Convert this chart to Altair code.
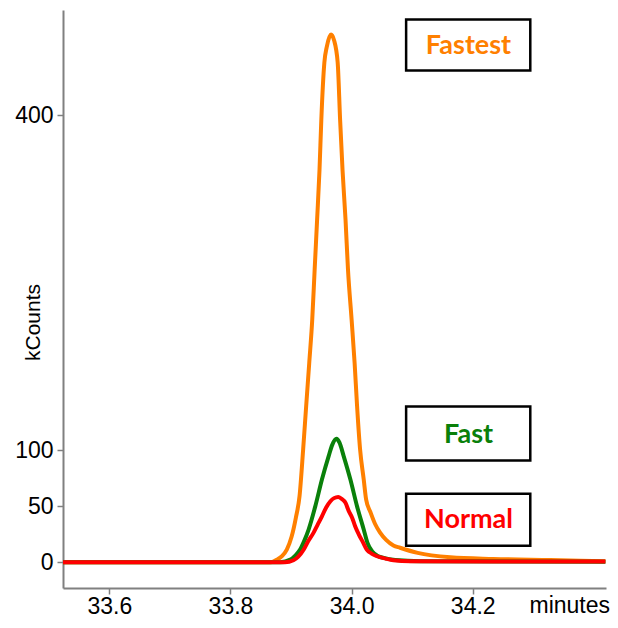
import altair as alt
import pandas as pd

# ---- data (minutes, kCounts) ----
fastest_t = [33.5235, 33.866, 33.877, 33.885, 33.893, 33.901, 33.908, 33.914, 33.920, 33.925,
             33.930, 33.935, 33.939, 33.943, 33.947, 33.950, 33.955, 33.959, 33.966, 33.971,
             33.977, 33.981, 33.985, 33.990, 33.994, 34.000, 34.005, 34.009, 34.014, 34.020,
             34.024, 34.031, 34.039, 34.047, 34.057, 34.069, 34.080, 34.109, 34.163, 34.234,
             34.328, 34.419]
fastest_v = [0, 0, 2.4, 5.5, 11.4, 23, 40, 59, 101, 140,
             178, 217, 262, 306, 351, 396, 447, 461, 472, 467,
             447, 396, 351, 306, 262, 217, 178, 140, 101, 74,
             56, 45, 34, 26.5, 20, 15, 13, 8.4, 4.5, 3,
             2, 1]

fast_t = [33.5235, 33.882, 33.899, 33.907, 33.915, 33.922, 33.929, 33.940, 33.951, 33.962,
          33.968, 33.975, 33.980, 33.987, 33.998, 34.009, 34.020, 34.026, 34.034, 34.042,
          34.053, 34.072, 34.114, 34.419]
fast_v = [0, 0, 2.4, 6, 11.4, 19.4, 29.3, 50, 74, 94.8,
          105, 110.4, 107, 94.8, 74, 50, 29.3, 17.6, 9.8, 6,
          3.9, 2, 0.9, 0.4]

normal_t = [33.5235, 33.890, 33.904, 33.912, 33.921, 33.928, 33.937, 33.944, 33.951, 33.958,
            33.965, 33.971, 33.978, 33.983, 33.990, 33.995, 34.001, 34.006, 34.012, 34.019,
            34.025, 34.033, 34.042, 34.056, 34.069, 34.097, 34.419]
normal_v = [0, 0, 1.8, 5, 11.4, 18.5, 26.3, 33.7, 41.1, 49,
            54.6, 57.4, 58.5, 57, 53.1, 46.2, 39.7, 32, 24.8, 17.6,
            11.4, 7.8, 5.4, 3.3, 1.8, 0.9, 0.6]

label_names = ["Fastest", "Fast", "Normal"]
label_colors = ["#FF8000", "#0A800A", "#FF0000"]
box_x0 = [34.090, 34.090, 34.090]
box_x1 = [34.295, 34.295, 34.295]
box_y0 = [439.8, 91.0, 14.9]
box_y1 = [485.4, 139.3, 61.4]
text_x = [34.193, 34.193, 34.193]
text_y = [462.0, 114.0, 37.5]

x_ticks = [33.6, 33.8, 34.0, 34.2]
y_ticks = [0, 50, 100, 400]

x_scale = alt.Scale(domain=[33.5235, 34.42], nice=False, zero=False)
y_scale = alt.Scale(domain=[-23, 494], nice=False, zero=False)

x_axis = alt.Axis(values=x_ticks, format=".1f", title="minutes", grid=False,
                  titleX=466, titleY=17, titleAlign="left", titleBaseline="middle",
                  titleFontWeight="normal", titleFontSize=23, titleFont="Liberation Sans",
                  titleColor="black",
                  labelFont="Liberation Sans", labelFontSize=23, labelColor="black",
                  labelPadding=1, labelBaseline="top",
                  domainColor="#808080", domainWidth=2,
                  tickColor="#808080", tickSize=6, tickWidth=1.5)
y_axis = alt.Axis(values=y_ticks, title="kCounts", grid=False,
                  titleX=-30, titleY=312, titleAlign="center", titleBaseline="middle",
                  titleFontWeight="normal", titleFontSize=21, titleFont="Liberation Sans",
                  titleColor="black",
                  labelFont="Liberation Sans", labelFontSize=23, labelColor="black",
                  labelPadding=4, domainColor="#808080", domainWidth=2,
                  tickColor="#808080", tickSize=6, tickWidth=1.5)


def line_layer(t, v, color):
    df = pd.DataFrame({"t": t, "v": v})
    return alt.Chart(df).mark_line(color=color, strokeWidth=4, interpolate="monotone").encode(
        x=alt.X("t:Q", scale=x_scale, axis=x_axis),
        y=alt.Y("v:Q", scale=y_scale, axis=y_axis),
    )


labels_df = pd.DataFrame({
    "name": label_names, "color": label_colors,
    "x0": box_x0, "x1": box_x1, "y0": box_y0, "y1": box_y1,
    "tx": text_x, "ty": text_y,
})

boxes = alt.Chart(labels_df).mark_rect(fill="white", stroke="black", strokeWidth=2.5).encode(
    x=alt.X("x0:Q", scale=x_scale, axis=x_axis), x2="x1:Q",
    y=alt.Y("y0:Q", scale=y_scale, axis=y_axis), y2="y1:Q",
)
texts = alt.Chart(labels_df).mark_text(font="Lato", fontWeight="bold", fontSize=27,
                                        align="center", baseline="middle").encode(
    x=alt.X("tx:Q", scale=x_scale, axis=x_axis),
    y=alt.Y("ty:Q", scale=y_scale, axis=y_axis),
    text="name:N",
    color=alt.Color("color:N", scale=None),
)

chart = alt.layer(
    line_layer(fastest_t, fastest_v, "#FF8000"),
    line_layer(fast_t, fast_v, "#0A800A"),
    line_layer(normal_t, normal_v, "#FF0000"),
    boxes,
    texts,
).properties(
    width=543, height=578,
    background="white",
    autosize=alt.AutoSizeParams(type="none"),
    padding={"left": 55, "top": 2, "right": 4, "bottom": 32},
).configure_view(stroke=None)

chart.save("out.html", embed_options={"renderer": "svg", "actions": False})
